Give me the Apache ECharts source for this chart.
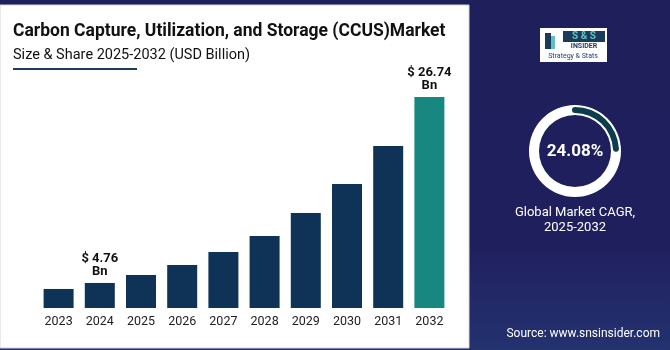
<!DOCTYPE html>
<html>
<head>
<meta charset="utf-8">
<script src="https://cdn.jsdelivr.net/npm/echarts@6/dist/echarts.min.js"></script>
<style>
  html, body { margin: 0; padding: 0; }
  #chart { width: 670px; height: 350px; }
</style>
</head>
<body>
<div id="chart"></div>
<script>
// market size, USD billion
var years = ['2023', '2024', '2025', '2026', '2027', '2028', '2029', '2030', '2031', '2032'];
var marketSize = [4.05, 4.76, 5.71, 6.89, 8.43, 10.32, 13.04, 16.46, 20.96, 26.74];
var labelledYears = ['2024', '2032'];
var cagr = [24.08];

var barColor = '#0f3356';
var lastColor = '#17877f';
var navy = '#1f1f5c';

var chart = echarts.init(document.getElementById('chart'));

var barData = marketSize.map(function (v, i) {
  var item = { value: v, itemStyle: { color: i === marketSize.length - 1 ? lastColor : barColor } };
  if (labelledYears.indexOf(years[i]) >= 0) {
    item.label = {
      show: true,
      position: 'top',
      distance: 5,
      formatter: '$ ' + v.toFixed(2) + '\nBn',
      fontFamily: 'Roboto',
      fontWeight: 'bold',
      fontSize: 13,
      lineHeight: 13,
      color: '#111'
    };
  }
  return item;
});

var option = {
  backgroundColor: {
    type: 'linear', x: 0, y: 0, x2: 0, y2: 1,
    colorStops: [
      { offset: 0, color: navy },
      { offset: 0.7, color: '#201f5e' },
      { offset: 1, color: '#243270' }
    ]
  },
  animation: false,
  graphic: [
    // white card
    { type: 'rect', shape: { x: 0, y: 5, width: 469, height: 343 }, style: { fill: '#fff', stroke: '#d6d6d6', lineWidth: 1 }, z: -10 },
    { type: 'text', left: 13, top: 23, style: { text: 'Carbon Capture, Utilization, and Storage (CCUS)Market', fontFamily: 'Roboto', fontWeight: 'bold', fontSize: 17.5, fill: '#111' } },
    { type: 'text', left: 13, top: 48, style: { text: 'Size & Share 2025-2032 (USD Billion)', fontFamily: 'Roboto', fontSize: 14.5, fill: '#111' } },
    { type: 'rect', shape: { x: 13, y: 68, width: 124, height: 2 }, style: { fill: '#1b3a5c' } },
    // logo
    { type: 'rect', shape: { x: 540, y: 28, width: 67, height: 34 }, style: { fill: '#fff' } },
    { type: 'rect', shape: { x: 545, y: 33, width: 6, height: 16 }, style: { fill: '#1b3a5c' } },
    { type: 'rect', shape: { x: 551, y: 36, width: 4, height: 13 }, style: { fill: '#5fc2c0' } },
    { type: 'rect', shape: { x: 563, y: 31, width: 42, height: 11 }, style: { fill: '#1b3a5c' } },
    { type: 'text', x: 584, y: 36.5, style: { text: 'S & S', fontFamily: 'Roboto', fontWeight: 'bold', fontSize: 10, fill: '#5fc2c0', align: 'center', verticalAlign: 'middle' } },
    { type: 'text', x: 584, y: 46, style: { text: 'INSIDER', fontFamily: 'Roboto', fontWeight: 'bold', fontSize: 7, fill: '#1b3a5c', align: 'center', verticalAlign: 'middle' } },
    { type: 'text', x: 573, y: 56, style: { text: 'Strategy & Stats', fontFamily: 'Roboto', fontSize: 7, fill: '#1b3a5c', align: 'center', verticalAlign: 'middle' } },
    // CAGR text
    { type: 'text', x: 575, y: 152, style: { text: cagr[0].toFixed(2) + '%', fontFamily: 'Roboto', fontWeight: 'bold', fontSize: 17, fill: '#fff', align: 'center', verticalAlign: 'middle' } },
    { type: 'text', x: 575, y: 220, style: { text: 'Global Market CAGR,\n2025-2032', fontFamily: 'Roboto', fontSize: 13, lineHeight: 15, fill: '#fff', align: 'center', verticalAlign: 'middle' } },
    { type: 'text', x: 660, y: 334, style: { text: 'Source: www.snsinsider.com', fontFamily: 'Roboto', fontSize: 12, fill: '#fff', align: 'right', verticalAlign: 'middle' } }
  ],
  grid: { left: 38, right: 220, top: 97, bottom: 42 },
  xAxis: {
    type: 'category',
    data: years,
    axisLine: { show: false },
    axisTick: { show: false },
    axisLabel: { fontFamily: 'Roboto', fontSize: 12.5, color: '#222', margin: 7 }
  },
  yAxis: {
    type: 'value',
    min: 1.8,
    max: 26.74,
    show: false,
    splitLine: { show: false }
  },
  series: [
    {
      type: 'bar',
      data: barData,
      barWidth: 30,
      label: { show: false }
    },
    {
      type: 'pie',
      center: [575, 151],
      radius: [36, 46],
      silent: true,
      label: { show: false },
      labelLine: { show: false },
      data: [{ value: 1, itemStyle: { color: '#fff' } }]
    },
    {
      type: 'gauge',
      center: [575, 151],
      radius: 44,
      startAngle: 90,
      endAngle: -270,
      min: 0,
      max: 100,
      z: 5,
      progress: { show: true, width: 6, roundCap: true, itemStyle: { color: '#0b3d4f' } },
      axisLine: { lineStyle: { width: 6, color: [[1, 'rgba(255,255,255,0)']] } },
      pointer: { show: false },
      axisTick: { show: false },
      splitLine: { show: false },
      axisLabel: { show: false },
      anchor: { show: false },
      title: { show: false },
      detail: { show: false },
      data: [{ value: cagr[0] }]
    }
  ]
};

chart.setOption(option);
</script>
</body>
</html>
